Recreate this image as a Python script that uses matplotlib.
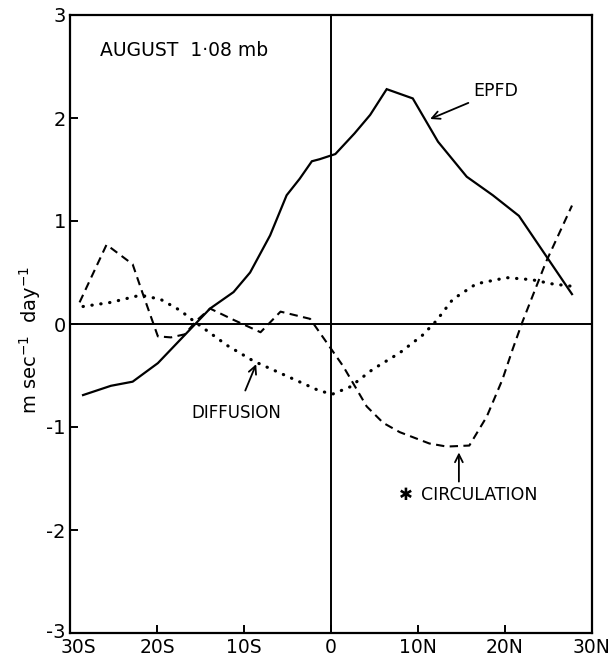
import matplotlib
matplotlib.use("Agg")
import matplotlib.pyplot as plt
import matplotlib.transforms as mtransforms

# latitude in degrees (negative = south), values in m/s/day
epfd_lat = [-28.5, -25.3, -22.8, -19.9, -15.6, -13.9, -11.2, -9.3, -7.0, -5.1, -3.6,
            -2.2, -1.3, 0.5, 2.7, 4.5, 6.4, 9.4, 12.3, 15.6, 18.6, 21.6, 27.7]
epfd_val = [-0.69, -0.60, -0.56, -0.38, 0.0, 0.15, 0.31, 0.50, 0.86, 1.25, 1.41,
            1.58, 1.60, 1.65, 1.85, 2.03, 2.28, 2.19, 1.77, 1.43, 1.25, 1.05, 0.29]

circ_lat = [-28.9, -25.8, -22.8, -21.7, -19.9, -18.4, -16.8, -15.5, -13.9, -11.2, -8.1,
            -5.8, -2.4, 0.0, 1.4, 4.1, 6.0, 7.9, 11.3, 13.3, 15.9, 17.9, 19.7, 20.9,
            22.0, 24.7, 27.7]
circ_val = [0.21, 0.77, 0.58, 0.31, -0.12, -0.13, -0.10, 0.03, 0.15, 0.04, -0.08,
            0.12, 0.05, -0.24, -0.41, -0.80, -0.96, -1.05, -1.16, -1.19, -1.18, -0.90,
            -0.54, -0.24, 0.02, 0.60, 1.15]

diff_lat = [-28.5, -25.3, -21.9, -19.6, -17.3, -15.8, -11.9, -8.9, -4.7, -1.3, 0.2,
            2.2, 4.8, 7.9, 10.5, 12.1, 14.0, 16.7, 20.2, 23.1, 25.4, 28.3]
diff_val = [0.17, 0.21, 0.28, 0.24, 0.13, 0.03, -0.21, -0.36, -0.52, -0.65, -0.68,
            -0.61, -0.44, -0.28, -0.11, 0.03, 0.24, 0.39, 0.45, 0.43, 0.39, 0.36]

x_ticks = [-30, -20, -10, 0, 10, 20, 30]
x_labels = ["30S", "20S", "10S", "0", "10N", "20N", "30N"]
y_ticks = [-3, -2, -1, 0, 1, 2, 3]

plt.rcParams["font.family"] = "DejaVu Sans"

fig = plt.figure(figsize=(6.16, 6.59), dpi=100)
ax = fig.add_axes([70 / 616, 1 - 633 / 659, (592 - 70) / 616, (633 - 15) / 659])

ax.plot(epfd_lat, epfd_val, color="black", linewidth=1.6, solid_joinstyle="miter")
ax.plot(circ_lat, circ_val, color="black", linewidth=1.5, linestyle=(0, (4, 2.6)))
ax.plot(diff_lat, diff_val, color="black", linewidth=2.3, linestyle=(0, (0.1, 2.7)),
        dash_capstyle="round")

ax.axhline(0, color="black", linewidth=1.4)
ax.axvline(0, color="black", linewidth=1.4)

ax.set_xlim(-30, 30)
ax.set_ylim(-3, 3)
ax.set_xticks(x_ticks)
ax.set_xticklabels(x_labels)
ax.set_yticks(y_ticks)
ax.set_yticklabels([str(v) for v in y_ticks])
ax.tick_params(direction="in", length=6, width=1.4, labelsize=14)
ax.tick_params(axis="x", pad=3.5, labelsize=13.5)
ax.tick_params(axis="y", pad=3)
for spine in ax.spines.values():
    spine.set_linewidth(1.6)

# the corner labels are nudged apart: 30S to the right, -3 a little up
first_x = ax.get_xticklabels()[0]
first_x.set_transform(first_x.get_transform() +
                      mtransforms.ScaledTranslation(8 / 100, 0, fig.dpi_scale_trans))
first_y = ax.get_yticklabels()[0]
first_y.set_transform(first_y.get_transform() +
                      mtransforms.ScaledTranslation(0, 3 / 100, fig.dpi_scale_trans))

ax.set_ylabel("m sec$^{-1}$  day$^{-1}$", fontsize=14)
ax.yaxis.set_label_coords(-0.051, 0.474)

ax.text(-26.5, 2.66, "AUGUST  1·08 mb", fontsize=13.5, ha="left", va="center")

arrow = dict(arrowstyle="->", color="black", linewidth=1.3, mutation_scale=14)
ax.annotate("EPFD", xy=(11.1, 1.98), xytext=(16.4, 2.26), fontsize=12.5,
            ha="left", va="center", arrowprops=arrow)
ax.annotate("DIFFUSION", xy=(-8.6, -0.39), xytext=(-10.9, -0.86), fontsize=12,
            ha="center", va="center", arrowprops=dict(arrow, shrinkB=0, shrinkA=8))
ax.annotate("", xy=(14.7, -1.22), xytext=(14.7, -1.53), arrowprops=dict(arrow, shrinkA=0))
ax.text(8.6, -1.66, "✱", fontsize=12, ha="center", va="center")
ax.text(10.4, -1.66, "CIRCULATION", fontsize=12.5, ha="left", va="center")

fig.savefig("out.png", dpi=100, facecolor="white")
